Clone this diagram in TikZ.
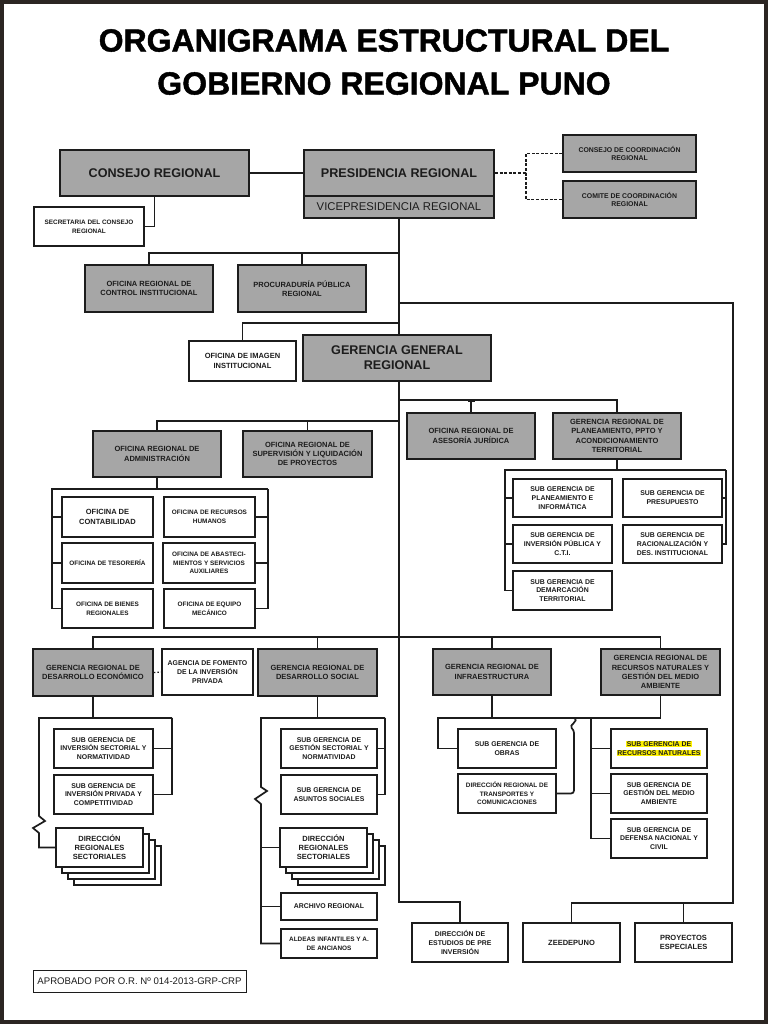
\documentclass[tikz,border=0pt]{standalone}
\usepackage{fontspec}
\setmainfont{Liberation Sans}
\newfontfamily\heavyfont[FakeBold=1.4]{Liberation Sans Bold}
\usepackage{xcolor}
\usetikzlibrary{arrows.meta,positioning,calc}
\definecolor{BoxGray}{HTML}{A6A6A6}
\definecolor{Ink}{HTML}{1C1C1C}
\definecolor{Frame}{HTML}{2B2522}
\definecolor{Marker}{HTML}{FFF200}
\tikzset{
  base/.style={draw=Ink,line width=1.8pt,inner sep=1pt,align=center,text=Ink,
    font=\bfseries\fontsize{6.9}{8.8}\selectfont},
  gbox/.style={base,fill=BoxGray},
  wbox/.style={base,fill=white},
  big/.style={font=\bfseries\fontsize{12.6}{15}\selectfont},
  mid/.style={font=\bfseries\fontsize{7.5}{9.2}\selectfont},
  small/.style={font=\bfseries\fontsize{6.4}{8.6}\selectfont},
  link/.style={draw=Ink,line width=1.7pt},
  dlink/.style={link,dash pattern=on 3pt off 1.6pt},
  dotlink/.style={link,line width=1.2pt,dash pattern=on 1.5pt off 2pt}}
\newcommand{\orgbox}[7]{%
  \pgfmathsetmacro\bw{#5-#3}\pgfmathsetmacro\bh{#6-#4}%
  \node[#1,minimum width=\bw pt,minimum height=\bh pt] (#2) at ({(#3+#5)/2},{(#4+#6)/2}){#7};}
\newcommand{\stackbox}[6]{%
  \foreach \k in {3,2,1}
    \draw[draw=Ink,line width=1.5pt,fill=white] ({#2+6*\k},{#3+6*\k}) rectangle ({#4+6*\k},{#5+6*\k});
  \orgbox{wbox,mid}{#1}{#2}{#3}{#4}{#5}{#6}}
\newcommand{\markit}[1]{{\setlength{\fboxsep}{0.6pt}\colorbox{Marker}{#1}}}
\begin{document}
\begin{tikzpicture}[x=1pt,y=-1pt]
  \useasboundingbox (0,0) rectangle (768,1024);
  \draw[Frame,line width=4pt] (2,2) rectangle (766,1022);
  \node[font=\heavyfont\fontsize{32}{43}\selectfont,align=center] (title) at (384,62)
    {ORGANIGRAMA ESTRUCTURAL DEL\\GOBIERNO REGIONAL PUNO};
  % top level
  \orgbox{gbox,big}{cons}{60}{150}{249}{196}{CONSEJO REGIONAL}
  \orgbox{gbox,big}{pres}{304}{150}{494}{196}{PRESIDENCIA REGIONAL}
  \orgbox{gbox,font=\fontsize{11.3}{13}\selectfont}{vice}{304}{196}{494}{218}{VICEPRESIDENCIA REGIONAL}
  \orgbox{wbox,small}{secr}{34}{207}{144}{246}{SECRETARIA DEL CONSEJO\\REGIONAL}
  \orgbox{gbox}{ccr}{563}{135}{696}{172}{CONSEJO DE COORDINACIÓN\\REGIONAL}
  \orgbox{gbox}{cmcr}{563}{181}{696}{218}{COMITE DE COORDINACIÓN\\REGIONAL}
  \orgbox{gbox,mid}{ctrl}{85}{265}{213}{312}{OFICINA REGIONAL DE\\CONTROL INSTITUCIONAL}
  \orgbox{gbox,mid}{proc}{238}{265}{366}{312}{PROCURADURÍA PÚBLICA\\REGIONAL}
  \orgbox{wbox,mid}{imag}{189}{341}{296}{381}{OFICINA DE IMAGEN\\INSTITUCIONAL}
  \orgbox{gbox,big}{ggr}{303}{335}{491}{381}{GERENCIA GENERAL\\REGIONAL}
  % organos de apoyo y asesoria
  \orgbox{gbox,mid}{jur}{407}{413}{535}{459}{OFICINA REGIONAL DE\\ASESORÍA JURÍDICA}
  \orgbox{gbox,mid}{plan}{553}{413}{681}{459}{GERENCIA REGIONAL DE\\PLANEAMIENTO, PPTO Y\\ACONDICIONAMIENTO\\TERRITORIAL}
  \orgbox{gbox,mid}{adm}{93}{431}{221}{477}{OFICINA REGIONAL DE\\ADMINISTRACIÓN}
  \orgbox{gbox,mid}{sup}{243}{431}{372}{477}{OFICINA REGIONAL DE\\SUPERVISIÓN Y LIQUIDACIÓN\\DE PROYECTOS}
  \orgbox{wbox,mid}{cont}{62}{497}{153}{537}{OFICINA DE\\CONTABILIDAD}
  \orgbox{wbox,small}{rrhh}{164}{497}{255}{537}{OFICINA DE RECURSOS\\HUMANOS}
  \orgbox{wbox,small}{teso}{62}{543}{153}{583}{OFICINA DE TESORERÍA}
  \orgbox{wbox,small}{abas}{163}{543}{255}{583}{OFICINA DE ABASTECI-\\MIENTOS Y SERVICIOS\\AUXILIARES}
  \orgbox{wbox,small}{bien}{62}{589}{153}{628}{OFICINA DE BIENES\\REGIONALES}
  \orgbox{wbox,small}{equi}{164}{589}{255}{628}{OFICINA DE EQUIPO\\MECÁNICO}
  \orgbox{wbox}{spi}{513}{479}{612}{517}{SUB GERENCIA DE\\PLANEAMIENTO E\\INFORMÁTICA}
  \orgbox{wbox}{sip}{513}{525}{612}{563}{SUB GERENCIA DE\\INVERSIÓN PÚBLICA Y\\C.T.I.}
  \orgbox{wbox}{sdt}{513}{571}{612}{610}{SUB GERENCIA DE\\DEMARCACIÓN\\TERRITORIAL}
  \orgbox{wbox}{spr}{623}{479}{722}{517}{SUB GERENCIA DE\\PRESUPUESTO}
  \orgbox{wbox}{sra}{623}{525}{722}{563}{SUB GERENCIA DE\\RACIONALIZACIÓN Y\\DES. INSTITUCIONAL}
  % organos de linea
  \orgbox{gbox,mid}{eco}{33}{649}{153}{696}{GERENCIA REGIONAL DE\\DESARROLLO ECONÓMICO}
  \orgbox{wbox}{agen}{162}{649}{253}{695}{AGENCIA DE FOMENTO\\DE LA INVERSIÓN\\PRIVADA}
  \orgbox{gbox,mid}{soc}{258}{649}{377}{696}{GERENCIA REGIONAL DE\\DESARROLLO SOCIAL}
  \orgbox{gbox,mid}{inf}{433}{649}{551}{695}{GERENCIA REGIONAL DE\\INFRAESTRUCTURA}
  \orgbox{gbox,mid}{rna}{601}{649}{720}{695}{GERENCIA REGIONAL DE\\RECURSOS NATURALES Y\\GESTIÓN DEL MEDIO\\AMBIENTE}
  \orgbox{wbox}{sis}{54}{729}{153}{768}{SUB GERENCIA DE\\INVERSIÓN SECTORIAL Y\\NORMATIVIDAD}
  \orgbox{wbox}{sipc}{54}{775}{153}{814}{SUB GERENCIA DE\\INVERSIÓN PRIVADA Y\\COMPETITIVIDAD}
  \stackbox{dre}{56}{828}{143}{867}{DIRECCIÓN\\REGIONALES\\SECTORIALES}
  \orgbox{wbox}{sgs}{281}{729}{377}{768}{SUB GERENCIA DE\\GESTIÓN SECTORIAL Y\\NORMATIVIDAD}
  \orgbox{wbox}{sas}{281}{775}{377}{814}{SUB GERENCIA DE\\ASUNTOS SOCIALES}
  \stackbox{drs}{280}{828}{367}{867}{DIRECCIÓN\\REGIONALES\\SECTORIALES}
  \orgbox{wbox}{arch}{281}{893}{377}{920}{ARCHIVO REGIONAL}
  \orgbox{wbox,small}{alde}{281}{929}{377}{958}{ALDEAS INFANTILES Y A.\\DE ANCIANOS}
  \orgbox{wbox}{obr}{458}{729}{556}{768}{SUB GERENCIA DE\\OBRAS}
  \orgbox{wbox,small}{trn}{458}{774}{556}{813}{DIRECCIÓN REGIONAL DE\\TRANSPORTES Y\\COMUNICACIONES}
  \orgbox{wbox}{srn}{611}{729}{707}{768}{\markit{SUB GERENCIA DE}\\\markit{RECURSOS NATURALES}}
  \orgbox{wbox}{sgma}{611}{774}{707}{813}{SUB GERENCIA DE\\GESTIÓN DEL MEDIO\\AMBIENTE}
  \orgbox{wbox}{sdn}{611}{819}{707}{858}{SUB GERENCIA DE\\DEFENSA NACIONAL Y\\CIVIL}
  \orgbox{wbox}{epi}{412}{923}{508}{962}{DIRECCIÓN DE\\ESTUDIOS DE PRE\\INVERSIÓN}
  \orgbox{wbox,mid}{zee}{523}{923}{620}{962}{ZEEDEPUNO}
  \orgbox{wbox,mid}{pes}{635}{923}{732}{962}{PROYECTOS\\ESPECIALES}
  \orgbox{wbox,line width=0.9pt,font=\fontsize{9.6}{11}\selectfont}{apro}{33}{970}{246}{992}{APROBADO POR O.R. Nº 014-2013-GRP-CRP}
  % junctions
  \coordinate (busA) at (399,253);
  \coordinate (busB) at (399,303);
  \coordinate (busC) at (399,323);
  \coordinate (busD) at (399,400);
  \coordinate (busE) at (399,421);
  \coordinate (busF) at (399,637);
  \coordinate (lft) at (399,902);
  \coordinate (rgt) at (733,903);
  \coordinate (dj) at (526,173);
  \coordinate (admL) at (52,489);
  \coordinate (admR) at (268,489);
  \coordinate (plL) at (505,470);
  \coordinate (plR) at (726,470);
  \coordinate (ecL) at (39,718);
  \coordinate (ecR) at (172,718);
  \coordinate (scL) at (261,718);
  \coordinate (scR) at (385,718);
  \coordinate (irL) at (438,718);
  \coordinate (rnV) at (591,718);
  \coordinate (brk) at (574,718);
  % connectors
  \draw[link] (cons) -- (pres);
  \draw[link] (cons.south) |- (secr);
  \draw[dlink] (pres.east) -- (dj);
  \draw[dlink] (ccr.west) -| (dj) |- (cmcr.west);
  \draw[link] (vice.south) -- (vice.south |- ggr.north);
  \draw[link] (ctrl.north) |- (busA);
  \draw[link] (proc.north) -- (proc.north |- busA);
  \draw[link] (imag.north) |- (busC);
  \draw[link] (busB) -| (rgt) -| (zee.north);
  \draw[link] (pes.north) -- (pes.north |- rgt);
  \draw[link] (ggr.south -| busA) -- (lft) -| (epi.north);
  \draw[link] (busD) -| (plan.north);
  \draw[link,{Bar[width=7pt]}-] (jur.north |- busD) -- (jur.north);
  \draw[link] (busE) -| (adm.north);
  \draw[link] (sup.north) -- (sup.north |- busE);
  \draw[link] (adm.south) -- (adm.south |- admL);
  \draw[link] (admR) -- (admL) |- (bien.west);
  \draw[link] (cont.west) -- (cont.west -| admL);
  \draw[link] (teso.west) -- (teso.west -| admL);
  \draw[link] (admR) |- (equi.east);
  \draw[link] (rrhh.east) -- (rrhh.east -| admR);
  \draw[link] (abas.east) -- (abas.east -| admR);
  \draw[link] (plan.south) -- (plan.south |- plL);
  \draw[link] (plR) -- (plL) |- (sdt.west);
  \draw[link] (spi.west) -- (spi.west -| plL);
  \draw[link] (sip.west) -- (sip.west -| plL);
  \draw[link] (plR) |- (sra.east);
  \draw[link] (spr.east) -- (spr.east -| plR);
  \draw[link] (eco.north) |- (busF) -| (rna.north);
  \draw[link] (soc.north) -- (soc.north |- busF);
  \draw[link] (inf.north) -- (inf.north |- busF);
  \draw[dotlink] (eco.east) -- (agen.west);
  \draw[link] (eco.south) -- (eco.south |- ecL);
  \draw[link] (ecR) -- (ecL) -- (39,816) -- (45,821) -- (33,828) -- (39,833) |- (dre.west);
  \draw[link] (ecR) |- (sipc.east);
  \draw[link] (sis.east) -- (sis.east -| ecR);
  \draw[link] (soc.south) -- (soc.south |- scL);
  \draw[link] (scR) -- (scL) -- (261,787) -- (267,791) -- (255,799) -- (261,804) |- (alde.west);
  \draw[link] (drs.west) -- (drs.west -| scL);
  \draw[link] (arch.west) -- (arch.west -| scL);
  \draw[link] (scR) |- (sas.east);
  \draw[link] (sgs.east) -- (sgs.east -| scR);
  \draw[link] (inf.south) -- (inf.south |- irL);
  \draw[link] (rna.south) |- (irL) |- (obr.west);
  \draw[link,rounded corners=3pt] (brk) .. controls (580,721) and (568,725) .. (574,730) |- (trn.east);
  \draw[link] (rnV) |- (sdn.west);
  \draw[link] (srn.west) -- (srn.west -| rnV);
  \draw[link] (sgma.west) -- (sgma.west -| rnV);
\end{tikzpicture}
\end{document}
